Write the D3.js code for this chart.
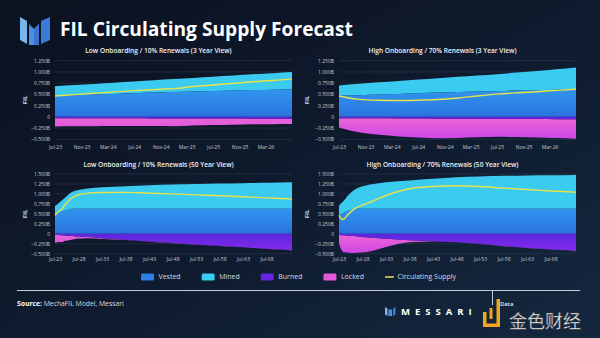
<!DOCTYPE html>
<html>
<head>
<meta charset="utf-8">
<script src="https://cdn.jsdelivr.net/npm/d3@7"></script>
<style>
  html, body { margin: 0; padding: 0; background: #0f1a2d; }
  svg { display: block; font-family: "Open Sans", "DejaVu Sans", sans-serif; }
</style>
</head>
<body>
<svg id="chart" width="600" height="338"></svg>
<script>
// ---- data (billions of FIL) ----
var shortDates = ["2023-07","2023-10","2024-01","2024-04","2024-07","2024-10","2025-01","2025-04","2025-07","2025-10","2026-01","2026-04","2026-07"];
var longDates  = ["2023-07","2024-01","2024-07","2025-01","2025-07","2026-01","2026-07","2027-01","2027-07","2028-07","2029-07","2030-07","2033-07","2038-07","2043-07","2048-07","2053-07","2058-07","2063-07","2068-07","2073-07","2073-12"];

// low onboarding / 10% renewals, 3 years
var lowShortVested = [0.47,0.48,0.495,0.51,0.525,0.54,0.555,0.565,0.575,0.585,0.595,0.605,0.615];
var lowShortMined  = [0.21,0.227,0.238,0.25,0.262,0.273,0.285,0.302,0.318,0.335,0.352,0.368,0.385];
var lowShortBurned = [0.030,0.031,0.032,0.033,0.034,0.035,0.036,0.037,0.038,0.039,0.040,0.041,0.042];
var lowShortLocked = [0.185,0.181,0.176,0.172,0.170,0.171,0.174,0.155,0.145,0.136,0.127,0.122,0.118];
var lowShortCirc   = [0.465,0.495,0.525,0.555,0.583,0.607,0.630,0.675,0.710,0.745,0.780,0.810,0.840];

// high onboarding / 70% renewals, 3 years
var highShortVested = [0.47,0.48,0.495,0.51,0.525,0.54,0.555,0.565,0.575,0.585,0.595,0.605,0.615];
var highShortMined  = [0.23,0.255,0.275,0.29,0.305,0.32,0.335,0.355,0.375,0.40,0.425,0.455,0.485];
var highShortBurned = [0.030,0.032,0.034,0.036,0.038,0.040,0.042,0.044,0.046,0.048,0.050,0.052,0.054];
var highShortLocked = [0.205,0.313,0.366,0.399,0.422,0.435,0.428,0.411,0.399,0.402,0.410,0.418,0.431];
var highShortCirc   = [0.465,0.39,0.37,0.365,0.37,0.385,0.42,0.465,0.505,0.535,0.56,0.59,0.615];

// low onboarding / 10% renewals, 50 years
var lowLongVested = [0.47,0.495,0.525,0.555,0.575,0.595,0.615,0.625,0.63,0.63,0.63,0.63,0.63,0.63,0.63,0.63,0.63,0.63,0.63,0.63,0.63,0.63];
var lowLongMined  = [0.22,0.245,0.265,0.285,0.315,0.355,0.385,0.415,0.44,0.47,0.49,0.505,0.535,0.565,0.59,0.605,0.62,0.63,0.64,0.65,0.66,0.665];
var lowLongBurned = [0.030,0.033,0.036,0.040,0.044,0.048,0.052,0.056,0.060,0.068,0.076,0.084,0.110,0.150,0.195,0.232,0.272,0.303,0.338,0.378,0.413,0.428];
var lowLongLocked = [0.195,0.182,0.171,0.170,0.136,0.122,0.108,0.094,0.080,0.052,0.044,0.031,0.020,0.005,0.005,0.003,0.003,0.002,0.002,0.002,0.002,0.002];
var lowLongCirc   = [0.465,0.525,0.583,0.63,0.71,0.78,0.84,0.89,0.93,0.98,1.0,1.02,1.035,1.04,1.02,1.0,0.975,0.955,0.93,0.90,0.875,0.865];

// high onboarding / 70% renewals, 50 years
var highLongVested = [0.47,0.495,0.525,0.555,0.575,0.595,0.615,0.625,0.63,0.63,0.63,0.63,0.63,0.63,0.63,0.63,0.63,0.63,0.63,0.63,0.63,0.63];
var highLongMined  = [0.23,0.275,0.305,0.345,0.395,0.435,0.465,0.495,0.52,0.56,0.59,0.61,0.66,0.71,0.75,0.79,0.81,0.825,0.835,0.84,0.845,0.85];
var highLongBurned = [0.030,0.034,0.038,0.043,0.048,0.053,0.058,0.063,0.068,0.078,0.088,0.098,0.125,0.165,0.190,0.213,0.253,0.308,0.353,0.393,0.428,0.438];
var highLongLocked = [0.205,0.366,0.427,0.427,0.427,0.427,0.422,0.417,0.407,0.392,0.367,0.332,0.205,0.045,0.005,0.002,0.002,0.002,0.002,0.002,0.002,0.002];
var highLongCirc   = [0.465,0.37,0.365,0.43,0.495,0.55,0.60,0.64,0.675,0.72,0.765,0.81,0.96,1.13,1.185,1.205,1.185,1.145,1.11,1.075,1.045,1.04];

var shortTicksY = [-0.5,-0.25,0,0.25,0.5,0.75,1.0,1.25];
var longTicksY  = [-0.5,-0.25,0,0.25,0.5,0.75,1.0,1.25,1.5];

var legendItems = ["Vested","Mined","Burned","Locked","Circulating Supply"];
var colors = {vested:"#2d7fe6", mined:"#3ccbf0", burned:"#6a24e4", locked:"#e25ad9", circ:"#e6e24c"};

var parse = d3.timeParse("%Y-%m");
var svg = d3.select("#chart");
var defs = svg.append("defs");

// background
var bg = defs.append("linearGradient").attr("id","bg").attr("x1",0).attr("y1",0).attr("x2",1).attr("y2",1);
bg.append("stop").attr("offset","0%").attr("stop-color","#0b1220");
bg.append("stop").attr("offset","55%").attr("stop-color","#0f1b2f");
bg.append("stop").attr("offset","100%").attr("stop-color","#15283f");
svg.append("rect").attr("width",600).attr("height",338).attr("fill","url(#bg)");

// header logo
var logo = svg.append("g");
logo.append("polygon").attr("points","20,17 27,21 27,44 20,40").attr("fill","#79b6f0");
logo.append("polygon").attr("points","29,24 34,29 39,24 39,45 29,45").attr("fill","#4d8fe2");
logo.append("polygon").attr("points","34,29 39,24 39,45 34,45").attr("fill","#3a74d0");
logo.append("polygon").attr("points","41,21 50,17 50,40 41,44").attr("fill","#3b7bd8");

var title = svg.append("text").attr("x",60).attr("y",36)
  .attr("fill","#ffffff").attr("font-weight",700).attr("font-size",17)
  .text("FIL Circulating Supply Forecast");
var tw = title.node().getComputedTextLength();
title.attr("font-size", 17 * 293 / tw);

var panels = [
  {id:"p1", title:"Low Onboarding / 10% Renewals (3 Year View)", dates:shortDates,
   vested:lowShortVested, mined:lowShortMined, burned:lowShortBurned, locked:lowShortLocked, circ:lowShortCirc,
   left:55, right:292, top:60.7, bottom:139.3, yMax:1.25, yTicks:shortTicksY, long:false, filX:25},
  {id:"p2", title:"High Onboarding / 70% Renewals (3 Year View)", dates:shortDates,
   vested:highShortVested, mined:highShortMined, burned:highShortBurned, locked:highShortLocked, circ:highShortCirc,
   left:339, right:576, top:60.7, bottom:139.3, yMax:1.25, yTicks:shortTicksY, long:false, filX:307},
  {id:"p3", title:"Low Onboarding / 10% Renewals (50 Year View)", dates:longDates,
   vested:lowLongVested, mined:lowLongMined, burned:lowLongBurned, locked:lowLongLocked, circ:lowLongCirc,
   left:55, right:292, top:174, bottom:253.7, yMax:1.5, yTicks:longTicksY, long:true, filX:25},
  {id:"p4", title:"High Onboarding / 70% Renewals (50 Year View)", dates:longDates,
   vested:highLongVested, mined:highLongMined, burned:highLongBurned, locked:highLongLocked, circ:highLongCirc,
   left:339, right:576, top:174, bottom:253.7, yMax:1.5, yTicks:longTicksY, long:true, filX:307}
];

function vGrad(id, y0, y1, c0, c1) {
  var g = defs.append("linearGradient").attr("id", id)
    .attr("gradientUnits","userSpaceOnUse").attr("x1",0).attr("x2",0).attr("y1",y0).attr("y2",y1);
  g.append("stop").attr("offset","0%").attr("stop-color",c0);
  g.append("stop").attr("offset","100%").attr("stop-color",c1);
  return "url(#" + id + ")";
}

var yFmt = function(d) { return d === 0 ? "0" : d3.format(".3f")(d) + "B"; };

panels.forEach(function(p) {
  var x = d3.scaleTime()
    .domain([parse(p.dates[0]), parse(p.dates[p.dates.length - 1])])
    .range([p.left, p.right]);
  var y = d3.scaleLinear().domain([-0.5, p.yMax]).range([p.bottom, p.top]);

  var rows = p.dates.map(function(d, i) {
    return {date: parse(d), vested: p.vested[i], mined: p.mined[i],
            burned: p.burned[i], locked: p.locked[i], circ: p.circ[i]};
  });

  var g = svg.append("g");

  // grid
  g.append("g").selectAll("line").data(p.yTicks).enter().append("line")
    .attr("x1", p.left).attr("x2", p.right)
    .attr("y1", function(d) { return y(d); }).attr("y2", function(d) { return y(d); })
    .attr("stroke", "#2e384c").attr("stroke-width", 0.6);

  var curve = d3.curveMonotoneX;
  var vestedFill = vGrad(p.id + "v", y(0.65), y(0), "#3297ef", "#2a72df");
  var burnedFill = vGrad(p.id + "b", y(0), y(-0.5), "#5a26dc", "#8a2df0");
  var lockedFill = vGrad(p.id + "l", y(0), y(-0.5), "#ee66d6", "#cc46e6");

  g.append("path").datum(rows).attr("fill", colors.mined)
    .attr("d", d3.area().curve(curve).x(function(d) { return x(d.date); })
      .y0(function(d) { return y(d.vested); })
      .y1(function(d) { return y(d.vested + d.mined); }));
  g.append("path").datum(rows).attr("fill", vestedFill)
    .attr("d", d3.area().curve(curve).x(function(d) { return x(d.date); })
      .y0(y(0)).y1(function(d) { return y(d.vested); }));
  g.append("path").datum(rows).attr("fill", lockedFill)
    .attr("d", d3.area().curve(curve).x(function(d) { return x(d.date); })
      .y0(function(d) { return y(-d.burned); })
      .y1(function(d) { return y(-d.burned - d.locked); }));
  g.append("path").datum(rows).attr("fill", burnedFill)
    .attr("d", d3.area().curve(curve).x(function(d) { return x(d.date); })
      .y0(y(0)).y1(function(d) { return y(-d.burned); }));

  g.append("path").datum(rows).attr("fill", "none")
    .attr("stroke", colors.circ).attr("stroke-width", 1.4)
    .attr("d", d3.line().curve(curve).x(function(d) { return x(d.date); })
      .y(function(d) { return y(d.circ); }));

  // axes
  var yAxis = g.append("g").attr("transform", "translate(" + p.left + ",0)")
    .call(d3.axisLeft(y).tickValues(p.yTicks).tickSize(0).tickPadding(5).tickFormat(yFmt));
  yAxis.select(".domain").remove();
  yAxis.selectAll("text").attr("font-size", 5).attr("fill", "#c4cad4").attr("font-family", "Open Sans");

  var xTicks = p.long
    ? d3.timeMonth.range(parse("2023-07"), parse("2073-01"), 60)
    : d3.timeMonth.range(parse("2023-07"), parse("2026-07"), 4);
  var xAxis = g.append("g").attr("transform", "translate(0," + p.bottom + ")")
    .call(d3.axisBottom(x).tickValues(xTicks).tickSize(0).tickPadding(p.long ? 3.5 : 6)
      .tickFormat(d3.timeFormat("%b-%y")));
  xAxis.select(".domain").remove();
  xAxis.selectAll("text").attr("font-size", 5).attr("fill", "#c4cad4").attr("font-family", "Open Sans");

  g.append("text")
    .attr("transform", "translate(" + p.filX + "," + ((p.top + p.bottom) / 2) + ") rotate(-90)")
    .attr("text-anchor", "middle").attr("dy", "0.35em")
    .attr("font-size", 6).attr("font-weight", 700).attr("fill", "#d4d8e0").text("FIL");

  g.append("text")
    .attr("x", (p.left + p.right) / 2 - 15).attr("y", p.top - 7.5)
    .attr("text-anchor", "middle").attr("font-size", 6.6).attr("font-weight", 600)
    .attr("fill", "#eef1f5").text(p.title);
});

// legend
var legendFills = [colors.vested, colors.mined, colors.burned, colors.locked];
var legend = svg.append("g");
var lx = 141, ly = 277;
legendItems.forEach(function(name, i) {
  var item = legend.append("g").attr("transform", "translate(" + lx + "," + ly + ")");
  if (i < 4) {
    item.append("rect").attr("x", 0).attr("y", -3.5).attr("width", 13).attr("height", 7)
      .attr("rx", 1.5).attr("fill", legendFills[i]);
  } else {
    item.append("line").attr("x1", 0).attr("x2", 9).attr("y1", 0).attr("y2", 0)
      .attr("stroke", colors.circ).attr("stroke-width", 1.5);
  }
  var tx = i < 4 ? 17.5 : 12.5;
  var t = item.append("text").attr("x", tx).attr("y", 0).attr("dy", "0.35em")
    .attr("font-size", 7).attr("fill", "#d6dbe3").text(name);
  lx += tx + t.node().getComputedTextLength() + 21;
});

// footer
svg.append("line").attr("x1", 17).attr("x2", 580).attr("y1", 290.5).attr("y2", 290.5)
  .attr("stroke", "#c3ccda").attr("stroke-width", 1);
svg.append("line").attr("x1", 492.5).attr("x2", 492.5).attr("y1", 290.5).attr("y2", 305)
  .attr("stroke", "#c3ccda").attr("stroke-width", 1);

var src = svg.append("text").attr("x", 17).attr("y", 306).attr("font-size", 6.8).attr("fill", "#d6dbe3");
src.append("tspan").attr("font-weight", 700).attr("fill", "#ffffff").text("Source:");
src.append("tspan").text(" MechaFIL Model, Messari");

var mark = svg.append("g");
mark.append("polygon").attr("points", "385,307 387.5,308.5 387.5,316 385,314.5").attr("fill", "#79b6f0");
mark.append("polygon").attr("points", "388.5,309.5 392,309.5 392,316 388.5,316").attr("fill", "#4d8fe2");
mark.append("polygon").attr("points", "393,308.5 395.5,307 395.5,314.5 393,316").attr("fill", "#3b7bd8");
mark.append("text").attr("x", 401).attr("y", 314.5).attr("font-size", 9.5).attr("font-weight", 700)
  .attr("fill", "#ffffff").attr("letter-spacing", 5).text("MESSARI");

svg.append("text").attr("x", 500).attr("y", 306).attr("font-size", 5.8).attr("font-weight", 600)
  .attr("fill", "#e8ecf2").text("Data");

// watermark
var wm = svg.append("g").attr("fill", "#f0a61e");
wm.append("rect").attr("x", 483).attr("y", 312).attr("width", 3.5).attr("height", 15);
wm.append("rect").attr("x", 483).attr("y", 323.5).attr("width", 17).attr("height", 3.5);
wm.append("rect").attr("x", 496.5).attr("y", 299).attr("width", 3.5).attr("height", 28);
wm.append("rect").attr("x", 489.5).attr("y", 308).attr("width", 3).attr("height", 11);
svg.append("text").attr("x", 509).attr("y", 328).attr("font-size", 18)
  .attr("font-family", "Noto Sans CJK SC").attr("fill", "#f2f2f2")
  .attr("stroke", "#3a3f48").attr("stroke-width", 0.4).text("金色财经");
</script>
</body>
</html>
